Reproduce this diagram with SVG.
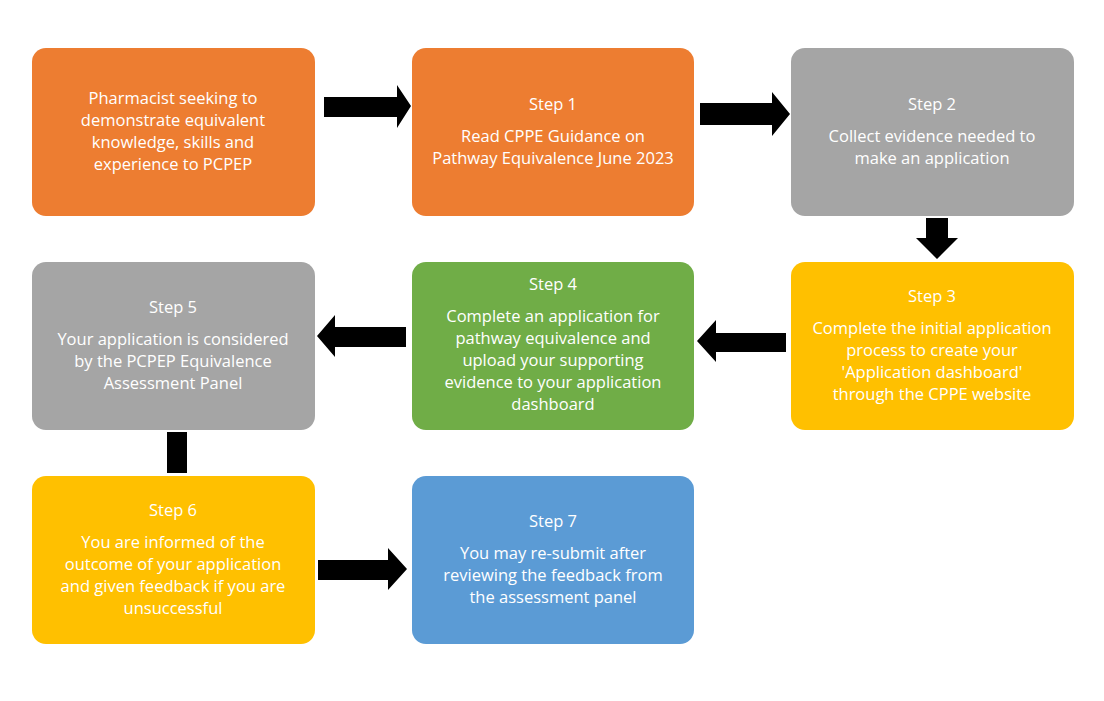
<svg xmlns="http://www.w3.org/2000/svg" width="1104" height="701" viewBox="0 0 1104 701">
<style>
.b{stroke:none}
.o{fill:#ED7D31}.g{fill:#A5A5A5}.y{fill:#FFC000}.gr{fill:#70AD47}.bl{fill:#5B9BD5}
text{font-family:"Open Sans","Liberation Sans",sans-serif;font-size:16.5px;fill:#fff;text-anchor:middle}
.c{fill:#000}
</style>
<rect width="1104" height="701" fill="#fff"/>
<g id="connectors">
<polygon class="c" points="324,97 397,97 397,85 411,106 397,128 397,117 324,117"/>
<polygon class="c" points="700,103 772,103 772,92 790,114 772,136 772,125 700,125"/>
<polygon class="c" points="926,218 948,218 948,238 958,238 937,259 916,238 926,238"/>
<polygon class="c" points="786,333 716,333 716,320 697,341 716,362 716,352 786,352"/>
<polygon class="c" points="406,327 335,327 335,315 317,336 335,357 335,347 406,347"/>
<rect class="c" x="167" y="432" width="20" height="41"/>
<polygon class="c" points="318,560 388,560 388,548 407,569 388,590 388,580 318,580"/>
</g>
<g id="n0"><rect class="o" x="32" y="48" width="283" height="168" rx="14"/>
<text x="173" y="104">Pharmacist seeking to</text><text x="173" y="126">demonstrate equivalent</text><text x="173" y="148">knowledge, skills and</text><text x="173" y="170">experience to PCPEP</text></g>
<g id="n1"><rect class="o" x="412" y="48" width="282" height="168" rx="14"/>
<text x="553" y="110">Step 1</text><text x="553" y="142">Read CPPE Guidance on</text><text x="553" y="164">Pathway Equivalence June 2023</text></g>
<g id="n2"><rect class="g" x="791" y="48" width="283" height="168" rx="14"/>
<text x="932" y="110">Step 2</text><text x="932" y="142">Collect evidence needed to</text><text x="932" y="164">make an application</text></g>
<g id="n3"><rect class="y" x="791" y="262" width="283" height="168" rx="14"/>
<text x="932" y="302">Step 3</text><text x="932" y="334">Complete the initial application</text><text x="932" y="356">process to create your</text><text x="932" y="378">'Application dashboard'</text><text x="932" y="400">through the CPPE website</text></g>
<g id="n4"><rect class="gr" x="412" y="262" width="282" height="168" rx="14"/>
<text x="553" y="290">Step 4</text><text x="553" y="322">Complete an application for</text><text x="553" y="344">pathway equivalence and</text><text x="553" y="366">upload your supporting</text><text x="553" y="388">evidence to your application</text><text x="553" y="410">dashboard</text></g>
<g id="n5"><rect class="g" x="32" y="262" width="283" height="168" rx="14"/>
<text x="173" y="313">Step 5</text><text x="173" y="345">Your application is considered</text><text x="173" y="367">by the PCPEP Equivalence</text><text x="173" y="389">Assessment Panel</text></g>
<g id="n6"><rect class="y" x="32" y="476" width="283" height="168" rx="14"/>
<text x="173" y="516">Step 6</text><text x="173" y="548">You are informed of the</text><text x="173" y="570">outcome of your application</text><text x="173" y="592">and given feedback if you are</text><text x="173" y="614">unsuccessful</text></g>
<g id="n7"><rect class="bl" x="412" y="476" width="282" height="168" rx="14"/>
<text x="553" y="527">Step 7</text><text x="553" y="559">You may re-submit after</text><text x="553" y="581">reviewing the feedback from</text><text x="553" y="603">the assessment panel</text></g>
</svg>
